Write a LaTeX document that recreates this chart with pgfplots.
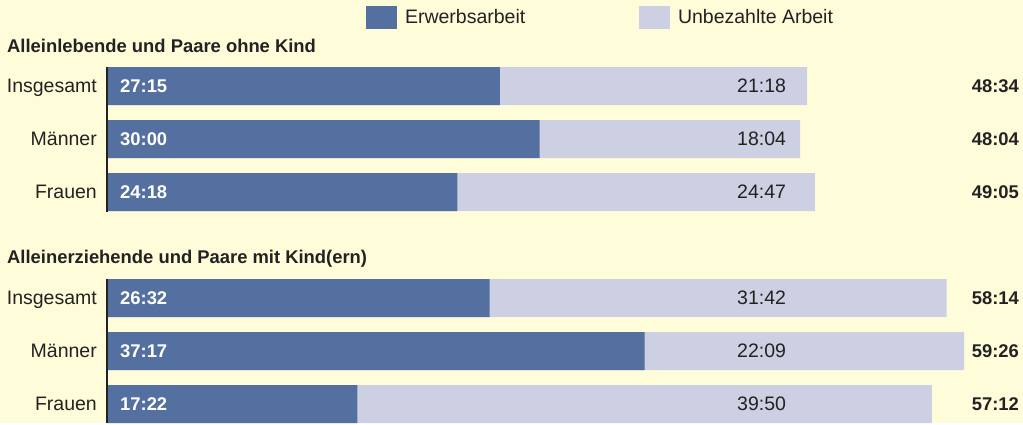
\documentclass[border=0pt]{standalone}
\usepackage{pgfplots}
\pgfplotsset{compat=1.18}
\usepackage{pgfplotstable}
\usepackage{fontspec}
\setmainfont{Liberation Sans}

\definecolor{paid}{HTML}{5470A0}
\definecolor{unpaid}{HTML}{CDD0E3}
\definecolor{bg}{HTML}{FFFCDA}
\definecolor{ink}{HTML}{222222}
\newcommand\regfont{\fontsize{19.5}{22}\selectfont}
\newcommand\boldfont{\bfseries\fontsize{18.4}{22}\selectfont}

% hours, y = row position (pixels from the bottom)
\pgfplotstableread{
y   paid    unpaid   cat        plab   ulab   tlab
337 27.25   21.30    Insgesamt  27:15  21:18  48:34
284 30.00   18.0667  Männer     30:00  18:04  48:04
231 24.30   24.7833  Frauen     24:18  24:47  49:05
125 26.5333 31.70    Insgesamt  26:32  31:42  58:14
72  37.2833 22.15    Männer     37:17  22:09  59:26
19  17.3667 39.8333  Frauen     17:22  39:50  57:12
}\data

\pgfplotsset{
  lbl/.style={draw=none, forget plot, nodes near coords, point meta=explicit symbolic,
    every node near coord/.append style={inner sep=0pt, yshift=-6.7pt, #1}},
}

\begin{document}
\begin{tikzpicture}
\begin{axis}[
    scale only axis, width=1023pt, height=423pt,
    xmin=-7.420, xmax=63.523, ymin=0, ymax=423,
    axis lines=none, clip=false,
    axis background/.style={fill=bg},
    legend image code/.code={\fill[#1, draw=none] (0pt,-11.5pt) rectangle (31pt,11.5pt);},
    legend columns=2,
    legend style={at={(axis description cs:0.35777,0.98582)}, anchor=north west,
      draw=none, fill=none, inner sep=0pt, outer sep=0pt,
      nodes={inner sep=0pt, text=ink, font=\regfont},
      /tikz/column sep=0pt,
      /tikz/every odd column/.append style={column sep=8pt},
      /tikz/every even column/.append style={column sep=113.7pt}},
]
\addlegendimage{fill=paid, draw=none}
\addlegendentry{Erwerbsarbeit}
\addlegendimage{fill=unpaid, draw=none}
\addlegendentry{Unbezahlte Arbeit}

\addplot[xbar, bar width=38pt, bar shift=0pt, fill=unpaid, draw=none, forget plot]
  table[x expr=\thisrow{paid}+\thisrow{unpaid}, y=y]{\data};
\addplot[xbar, bar width=38pt, bar shift=0pt, fill=paid, draw=none, forget plot]
  table[x=paid, y=y]{\data};

\addplot[lbl={anchor=base east, text=ink, font=\regfont}]
  table[x expr=-0.693, y=y, meta=cat]{\data};
\addplot[lbl={anchor=base west, text=white, font=\boldfont}]
  table[x expr=0.9, y=y, meta=plab]{\data};
\addplot[lbl={anchor=base west, text=ink, font=\regfont}]
  table[x expr=43.69, y=y, meta=ulab]{\data};
\addplot[lbl={anchor=base east, text=ink, font=\boldfont}]
  table[x expr=63.25, y=y, meta=tlab]{\data};

\draw[ink, line width=2pt] (axis cs:0,356) -- (axis cs:0,211);
\draw[ink, line width=2pt] (axis cs:0,144) -- (axis cs:0,0);

\node[anchor=base west, inner sep=0pt, text=ink, font=\boldfont]
  at (axis cs:-6.935,370.5) {Alleinlebende und Paare ohne Kind};
\node[anchor=base west, inner sep=0pt, text=ink, font=\boldfont]
  at (axis cs:-6.935,160) {Alleinerziehende und Paare mit Kind(ern)};
\end{axis}
\end{tikzpicture}
\end{document}
